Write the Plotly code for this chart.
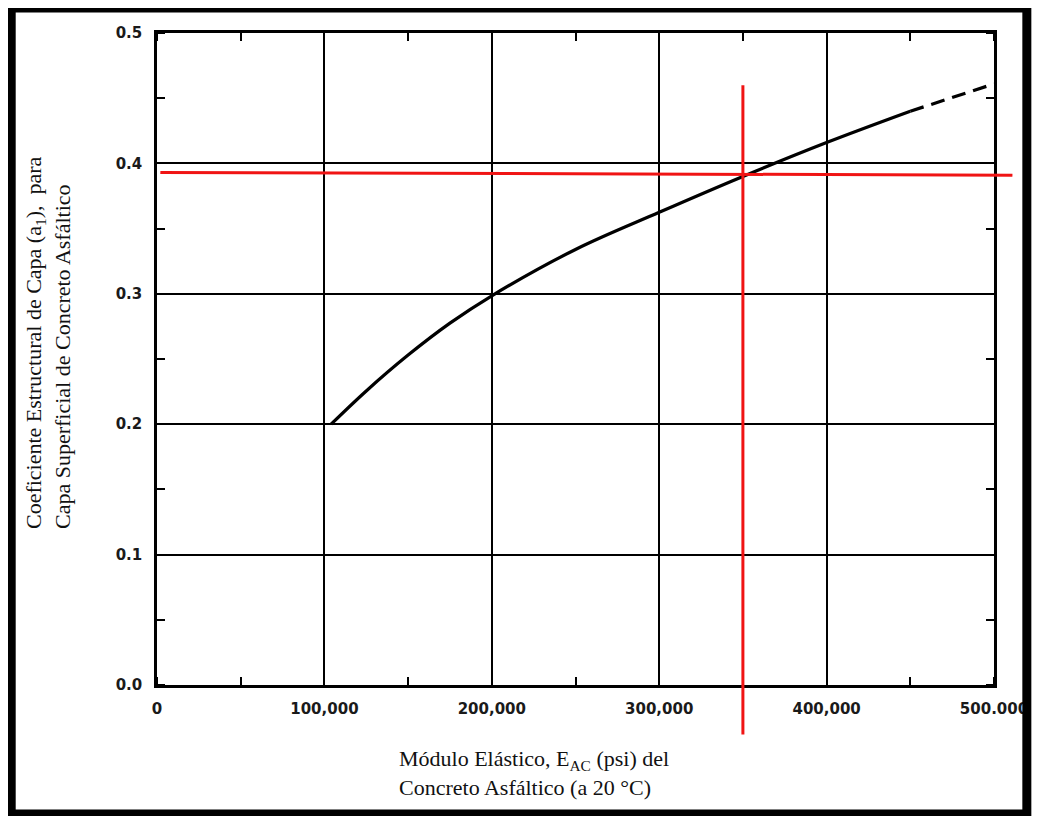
import plotly.graph_objects as go

# ---- data ----
modulus_solid = [104000, 125000, 150000, 175000, 200000, 250000, 300000, 350000, 400000, 450000]
coef_solid = [0.200, 0.2255, 0.253, 0.2775, 0.2985, 0.334, 0.3625, 0.390, 0.416, 0.440]
modulus_dashed = [450000, 500000]
coef_dashed = [0.440, 0.461]

x_tick_vals = [0, 100000, 200000, 300000, 400000, 500000]
x_tick_text = ["0", "100,000", "200,000", "300,000", "400,000", "500.000"]
y_tick_vals = [0.0, 0.1, 0.2, 0.3, 0.4, 0.5]
y_tick_text = ["0.0", "0.1", "0.2", "0.3", "0.4", "0.5"]

# red read-off guide lines
guide_modulus = 350000
guide_coef_left = 0.393
guide_coef_right = 0.391
guide_h_x_start = 2000
guide_h_x_end = 511000
guide_v_y_low = -0.038
guide_v_y_high = 0.46

X_RANGE = [0, 500000]
Y_RANGE = [0, 0.5]

# ---- layout geometry (page pixels; the page body adds an 8px margin) ----
OFF = 8
W, H = 1040 - OFF, 816 - OFF
PLOT_L, PLOT_R, PLOT_T, PLOT_B = 157, 998, 33, 685   # page pixels
L = PLOT_L - OFF
T = PLOT_T - OFF
R = W - (PLOT_R - OFF)
B = H - (PLOT_B - OFF)
PW, PH = PLOT_R - PLOT_L, PLOT_B - PLOT_T


def px_to_paper_x(px):
    return (px - PLOT_L) / PW


def px_to_paper_y(py):
    return (PLOT_B - py) / PH


def data_to_paper_x(v):
    return (v - X_RANGE[0]) / (X_RANGE[1] - X_RANGE[0])


def data_to_paper_y(v):
    return (v - Y_RANGE[0]) / (Y_RANGE[1] - Y_RANGE[0])


fig = go.Figure()
fig.add_trace(go.Scatter(x=modulus_solid, y=coef_solid, mode="lines",
                         line=dict(color="black", width=3.2, shape="spline", smoothing=1.0),
                         showlegend=False, hoverinfo="skip"))
fig.add_trace(go.Scatter(x=modulus_dashed, y=coef_dashed, mode="lines",
                         line=dict(color="black", width=3.2, dash="14px,8px"),
                         showlegend=False, hoverinfo="skip"))

RED = "#f01414"
# horizontal red guide (extends beyond right edge of the plot)
fig.add_shape(type="line", xref="paper", yref="y",
              x0=data_to_paper_x(guide_h_x_start), x1=data_to_paper_x(guide_h_x_end),
              y0=guide_coef_left, y1=guide_coef_right,
              line=dict(color=RED, width=3))
# vertical red guide (extends above and below the plot)
fig.add_shape(type="line", xref="x", yref="paper",
              x0=guide_modulus, x1=guide_modulus,
              y0=data_to_paper_y(guide_v_y_low), y1=data_to_paper_y(guide_v_y_high),
              line=dict(color=RED, width=3))

# outer black frame
fig.add_shape(type="rect", xref="paper", yref="paper",
              x0=px_to_paper_x(10.5), x1=px_to_paper_x(1031),
              y0=px_to_paper_y(814), y1=px_to_paper_y(8),
              line=dict(color="black", width=9), fillcolor="rgba(0,0,0,0)")

tick_font = dict(family="DejaVu Sans", size=15, color="#1a1a1a", weight="bold")
fig.update_xaxes(range=X_RANGE, tickmode="array", tickvals=x_tick_vals, ticktext=x_tick_text,
                 showgrid=True, gridcolor="black", gridwidth=2, zeroline=False,
                 showline=True, linecolor="black", linewidth=2.5, mirror="ticks",
                 ticks="", tickfont=tick_font, ticklabelstandoff=8,
                 minor=dict(dtick=50000, tick0=0, ticks="inside", ticklen=8, tickwidth=2,
                            tickcolor="black", showgrid=False))
fig.update_yaxes(range=Y_RANGE, tickmode="array", tickvals=y_tick_vals, ticktext=y_tick_text,
                 showgrid=True, gridcolor="black", gridwidth=2, zeroline=False,
                 showline=True, linecolor="black", linewidth=2.5, mirror="ticks",
                 ticks="", tickfont=tick_font, ticklabelstandoff=9,
                 minor=dict(dtick=0.05, tick0=0, ticks="inside", ticklen=8, tickwidth=2,
                            tickcolor="black", showgrid=False))

serif = dict(family="Liberation Serif", size=22, color="#111111")
fig.add_annotation(xref="paper", yref="paper", x=px_to_paper_x(398), y=px_to_paper_y(773),
                   xanchor="left", yanchor="middle", align="left", showarrow=False,
                   text="Módulo Elástico, E<sub>AC</sub> (psi) del<br>Concreto Asfáltico (a 20 °C)",
                   font=serif)
fig.add_annotation(xref="paper", yref="paper", x=px_to_paper_x(47), y=px_to_paper_y(531),
                   xanchor="center", yanchor="bottom", align="left", showarrow=False,
                   textangle=-90,
                   text="Coeficiente Estructural de Capa (a<sub>1</sub>),  para<br>Capa Superficial de Concreto Asfáltico",
                   font=serif)

fig.update_layout(width=W, height=H, margin=dict(l=L, r=R, t=T, b=B),
                  paper_bgcolor="white", plot_bgcolor="white", showlegend=False)

fig.write_html("out.html")
